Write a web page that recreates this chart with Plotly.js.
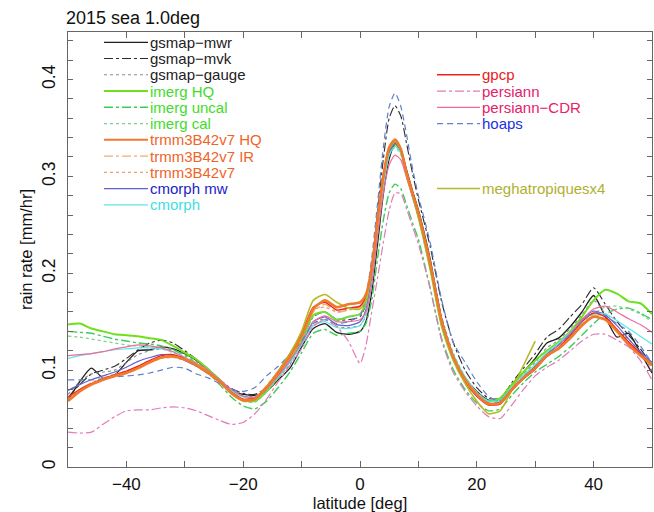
<!DOCTYPE html>
<html><head><meta charset="utf-8">
<script src="https://cdn.plot.ly/plotly-3.0.1.min.js"></script>
<style>html,body{margin:0;padding:0;background:#fff}#chart{width:654px;height:512px}</style>
</head><body><div id="chart"></div>
<script>
// latitude grid (deg)
const latitude = [-50,-48,-46,-44,-42,-40,-38,-36,-34,-32,-30,-28,-26,-24,-22,-20,-18,-16,-14,-12,-10,-8,-6,-4,-2,
  0,1,2,3,4,5,6,7,8,9,10,
  12,14,16,18,20,22,24,26,28,30,32,34,36,38,40,42,44,46,48,50];

// rain rate [mm/hr]
const gsmapMwr = [0.069,0.088,0.102,0.092,0.095,0.108,0.120,0.121,0.124,0.122,0.117,0.110,0.100,0.088,0.078,0.075,0.074,0.078,0.090,0.102,0.124,0.143,0.148,0.139,0.137,
  0.140,0.150,0.180,0.230,0.282,0.318,0.333,0.327,0.306,0.285,0.265,
  0.215,0.152,0.114,0.092,0.078,0.069,0.069,0.085,0.098,0.112,0.128,0.133,0.145,0.160,0.177,0.155,0.134,0.138,0.118,0.097];
const gsmapMvk = [0.072,0.085,0.096,0.100,0.104,0.112,0.121,0.128,0.131,0.128,0.120,0.111,0.101,0.090,0.081,0.076,0.075,0.082,0.095,0.110,0.130,0.155,0.160,0.152,0.152,
  0.155,0.168,0.205,0.262,0.318,0.360,0.373,0.362,0.333,0.303,0.276,
  0.228,0.170,0.128,0.100,0.082,0.071,0.071,0.087,0.102,0.117,0.134,0.142,0.155,0.168,0.185,0.168,0.150,0.136,0.122,0.105];
const gsmapGauge = [0.075,0.088,0.096,0.098,0.100,0.108,0.116,0.120,0.122,0.121,0.116,0.109,0.099,0.088,0.078,0.073,0.073,0.080,0.092,0.106,0.127,0.148,0.153,0.145,0.144,
  0.146,0.156,0.188,0.240,0.290,0.323,0.334,0.326,0.305,0.284,0.264,
  0.214,0.155,0.117,0.093,0.078,0.068,0.068,0.083,0.096,0.108,0.123,0.131,0.143,0.157,0.172,0.158,0.140,0.132,0.118,0.100];
const imergHQ = [0.147,0.148,0.143,0.140,0.137,0.136,0.135,0.133,0.131,0.125,0.118,0.111,0.101,0.090,0.078,0.069,0.068,0.078,0.093,0.110,0.130,0.157,0.160,0.152,0.155,
  0.158,0.170,0.200,0.250,0.296,0.326,0.334,0.325,0.301,0.280,0.258,
  0.205,0.145,0.110,0.088,0.074,0.068,0.071,0.085,0.098,0.110,0.120,0.129,0.140,0.155,0.172,0.183,0.179,0.171,0.169,0.158];
const imergUncal = [0.140,0.139,0.138,0.135,0.132,0.130,0.128,0.127,0.125,0.121,0.115,0.107,0.097,0.085,0.072,0.063,0.060,0.068,0.082,0.098,0.118,0.138,0.142,0.136,0.138,
  0.140,0.148,0.172,0.215,0.255,0.283,0.292,0.287,0.270,0.252,0.235,
  0.185,0.132,0.100,0.080,0.066,0.058,0.060,0.074,0.087,0.098,0.106,0.114,0.124,0.136,0.148,0.158,0.163,0.164,0.159,0.152];
const imergCal = [0.135,0.134,0.132,0.130,0.128,0.126,0.125,0.124,0.122,0.118,0.113,0.106,0.097,0.087,0.076,0.068,0.067,0.077,0.092,0.108,0.128,0.155,0.160,0.153,0.155,
  0.158,0.168,0.198,0.248,0.293,0.322,0.330,0.322,0.299,0.278,0.257,
  0.205,0.145,0.110,0.087,0.073,0.066,0.068,0.082,0.094,0.104,0.114,0.122,0.133,0.146,0.158,0.165,0.166,0.163,0.158,0.150];
const trmmHQ = [0.068,0.078,0.085,0.090,0.094,0.097,0.102,0.108,0.113,0.114,0.111,0.105,0.097,0.088,0.076,0.069,0.070,0.082,0.097,0.114,0.135,0.163,0.172,0.165,0.168,
  0.170,0.178,0.205,0.255,0.300,0.330,0.338,0.328,0.303,0.282,0.262,
  0.210,0.150,0.113,0.090,0.075,0.065,0.066,0.080,0.092,0.102,0.115,0.122,0.133,0.146,0.155,0.152,0.140,0.126,0.115,0.105];
const trmmIR = [0.072,0.080,0.087,0.092,0.096,0.099,0.104,0.109,0.113,0.114,0.110,0.104,0.096,0.087,0.077,0.070,0.072,0.084,0.099,0.116,0.136,0.160,0.168,0.160,0.162,
  0.165,0.175,0.203,0.252,0.297,0.327,0.335,0.326,0.302,0.281,0.261,
  0.212,0.152,0.115,0.091,0.076,0.066,0.067,0.081,0.093,0.104,0.117,0.125,0.136,0.148,0.157,0.153,0.142,0.128,0.117,0.107];
const trmm = [0.070,0.079,0.086,0.091,0.095,0.098,0.103,0.108,0.112,0.113,0.110,0.104,0.096,0.087,0.076,0.069,0.071,0.083,0.098,0.115,0.136,0.162,0.165,0.160,0.163,
  0.166,0.176,0.204,0.253,0.298,0.328,0.336,0.327,0.302,0.281,0.261,
  0.211,0.151,0.114,0.090,0.075,0.065,0.066,0.080,0.092,0.103,0.116,0.124,0.135,0.147,0.156,0.152,0.141,0.127,0.116,0.106];
const cmorphMw = [0.079,0.085,0.090,0.094,0.098,0.103,0.109,0.113,0.116,0.115,0.110,0.104,0.097,0.088,0.080,0.073,0.072,0.081,0.094,0.109,0.127,0.150,0.155,0.147,0.146,
  0.150,0.162,0.195,0.247,0.294,0.325,0.334,0.326,0.303,0.282,0.262,
  0.212,0.152,0.115,0.091,0.075,0.066,0.067,0.081,0.093,0.104,0.117,0.126,0.138,0.152,0.161,0.157,0.146,0.132,0.119,0.108];
const cmorph = [0.112,0.115,0.117,0.119,0.121,0.122,0.123,0.123,0.122,0.119,0.113,0.106,0.098,0.088,0.079,0.072,0.072,0.080,0.093,0.108,0.126,0.146,0.150,0.144,0.143,
  0.146,0.158,0.190,0.243,0.290,0.322,0.331,0.324,0.302,0.281,0.261,
  0.211,0.152,0.116,0.093,0.077,0.068,0.069,0.083,0.095,0.106,0.118,0.128,0.139,0.151,0.158,0.158,0.151,0.143,0.135,0.127];
const gpcp = [0.072,0.080,0.086,0.091,0.095,0.099,0.104,0.110,0.115,0.116,0.112,0.106,0.098,0.088,0.077,0.070,0.071,0.083,0.099,0.117,0.138,0.165,0.170,0.162,0.164,
  0.166,0.176,0.207,0.258,0.302,0.330,0.336,0.327,0.304,0.283,0.263,
  0.212,0.152,0.113,0.088,0.073,0.064,0.065,0.079,0.091,0.101,0.114,0.123,0.136,0.150,0.159,0.155,0.142,0.129,0.117,0.105];
const persiann = [0.036,0.035,0.036,0.044,0.052,0.058,0.059,0.059,0.061,0.062,0.061,0.058,0.053,0.048,0.044,0.046,0.055,0.070,0.088,0.105,0.122,0.145,0.152,0.145,0.130,
  0.107,0.125,0.160,0.195,0.232,0.265,0.283,0.282,0.266,0.248,0.230,
  0.185,0.130,0.097,0.078,0.063,0.052,0.050,0.064,0.080,0.094,0.103,0.110,0.120,0.130,0.137,0.137,0.131,0.124,0.110,0.090];
const persiannCDR = [0.115,0.116,0.117,0.119,0.122,0.124,0.126,0.125,0.123,0.119,0.113,0.107,0.100,0.090,0.080,0.073,0.072,0.080,0.094,0.110,0.128,0.150,0.156,0.150,0.150,
  0.152,0.160,0.188,0.238,0.283,0.312,0.322,0.317,0.298,0.279,0.259,
  0.208,0.148,0.112,0.089,0.074,0.065,0.066,0.080,0.092,0.103,0.116,0.126,0.138,0.152,0.163,0.166,0.160,0.153,0.147,0.139];
const hoaps = [0.090,0.090,0.090,0.091,0.093,0.094,0.095,0.097,0.100,0.103,0.102,0.096,0.092,0.086,0.080,0.078,0.082,0.094,0.104,0.116,0.130,0.148,0.152,0.148,0.150,
  0.156,0.175,0.215,0.272,0.330,0.372,0.386,0.372,0.342,0.308,0.280,
  0.232,0.172,0.128,0.108,0.088,0.073,0.068,0.080,0.092,0.104,0.116,0.126,0.137,0.150,0.160,0.156,0.148,0.140,0.125,0.107];
const meghatropiques = [null,null,null,null,null,null,null,null,null,null,0.112,0.106,0.098,0.088,0.076,0.068,0.069,0.083,0.099,0.117,0.140,0.172,0.178,0.170,0.164,
  0.163,0.172,0.202,0.252,0.298,0.328,0.336,0.327,0.301,0.280,0.259,
  0.207,0.146,0.110,0.086,0.068,0.055,0.058,0.080,0.105,0.130,null,null,null,null,null,null,null,null,null,null];

const seriesNames = ['gsmap\u2212mwr','gsmap\u2212mvk','gsmap\u2212gauge','imerg HQ','imerg uncal','imerg cal',
  'trmm3B42v7 HQ','trmm3B42v7 IR','trmm3B42v7','cmorph mw','cmorph','gpcp','persiann','persiann\u2212CDR','hoaps','meghatropiquesx4'];
const seriesValues = [gsmapMwr,gsmapMvk,gsmapGauge,imergHQ,imergUncal,imergCal,trmmHQ,trmmIR,trmm,cmorphMw,cmorph,gpcp,persiann,persiannCDR,hoaps,meghatropiques];

// styles: line colour, dash, width, legend text colour, legend column, legend row
const styles = [
  {c:'#1e1e1e', d:'solid',   w:1.3, t:'#222222', col:0, row:0},
  {c:'#2a2a2a', d:'dashdot', w:1.1, t:'#222222', col:0, row:1},
  {c:'#8a8a8a', d:'dot',     w:1.1, t:'#222222', col:0, row:2},
  {c:'#6ee01e', d:'solid',   w:2.0, t:'#3fdc2a', col:0, row:3},
  {c:'#3ccc5a', d:'dashdot', w:1.4, t:'#3fdc2a', col:0, row:4},
  {c:'#7ccf90', d:'dot',     w:1.2, t:'#3fdc2a', col:0, row:5},
  {c:'#f07a2c', d:'solid',   w:2.6, t:'#f0642a', col:0, row:6},
  {c:'#f2ac70', d:'dashdot', w:1.3, t:'#f0642a', col:0, row:7},
  {c:'#e8a070', d:'dot',     w:1.2, t:'#f0642a', col:0, row:8},
  {c:'#6262c8', d:'solid',   w:1.2, t:'#2222c8', col:0, row:9},
  {c:'#5ee6e6', d:'solid',   w:1.2, t:'#3ee0e0', col:0, row:10},
  {c:'#ee2222', d:'solid',   w:1.4, t:'#e82020', col:1, row:2},
  {c:'#e07cb8', d:'dashdot', w:1.2, t:'#e8206a', col:1, row:3},
  {c:'#f06aa0', d:'solid',   w:1.2, t:'#e8206a', col:1, row:4},
  {c:'#5f80cc', d:'6px,4px', w:1.2, t:'#2030e0', col:1, row:5},
  {c:'#b8b828', d:'solid',   w:1.6, t:'#b0b030', col:1, row:9}
];

const W = 654, H = 512, ML = 68, MR = 2, MT = 32, MB = 45;
const PW = W - ML - MR, PH = H - MT - MB;
const px2x = p => (p - ML) / PW;
const py2y = p => (H - MB - p) / PH;

const traces = seriesValues.map((v, i) => ({
  x: latitude, y: v, type: 'scatter', mode: 'lines', name: seriesNames[i],
  line: {color: styles[i].c, dash: styles[i].d, width: styles[i].w, shape: 'spline', smoothing: 0.6},
  connectgaps: false, showlegend: false, hoverinfo: 'skip'
}));
// trmm HQ drawn last so it sits on top
const order = [0,1,2,3,4,5,7,8,9,10,11,12,13,14,15,6];
const data = order.map(i => traces[i]);

const shapes = [], annotations = [];
const colLine = [[104,148],[437,480]];
const colText = [149, 481];
styles.forEach((s, i) => {
  const yy = py2y(42.3 + 16.25 * s.row);
  shapes.push({type:'line', xref:'paper', yref:'paper', x0:px2x(colLine[s.col][0]), x1:px2x(colLine[s.col][1]), y0:yy, y1:yy,
    line:{color:s.c, dash:s.d, width:Math.min(s.w,2)}});
  annotations.push({xref:'paper', yref:'paper', x:px2x(colText[s.col]), y:yy, xanchor:'left', yanchor:'middle',
    text:seriesNames[i], showarrow:false, borderpad:0,
    font:{family:'Liberation Sans, Arial, sans-serif', size:15, color:s.t}});
});

const layout = {
  width: W, height: H,
  margin: {l: ML, r: MR, t: MT, b: MB, pad: 0},
  paper_bgcolor: '#fff', plot_bgcolor: '#fff',
  font: {family: 'Liberation Sans, Arial, sans-serif', color: '#111'},
  title: {text: '2015 sea 1.0deg', x: 66 / W, xanchor: 'left', y: 1 - 18 / H, yanchor: 'middle',
    font: {size: 18, color: '#111'}},
  xaxis: {range: [-50, 50], tick0: 0, dtick: 20, ticks: 'inside', ticklen: 6, tickcolor: '#666',
    minor: {dtick: 10, ticks: 'inside', ticklen: 6, tickcolor: '#666'},
    showline: true, linecolor: '#666', linewidth: 1, mirror: 'ticks', showgrid: false, zeroline: false,
    tickfont: {size: 17, color: '#111'}, ticklabelstandoff: 2,
    title: {text: 'latitude [deg]', font: {size: 16.5, color: '#111'}, standoff: 1}},
  yaxis: {range: [0, 0.449], tick0: 0, dtick: 0.1, ticks: 'inside', ticklen: 5, tickcolor: '#666',
    minor: {dtick: 0.02, ticks: 'inside', ticklen: 5, tickcolor: '#666'},
    showline: true, linecolor: '#666', linewidth: 1, mirror: 'ticks', showgrid: false, zeroline: false,
    tickangle: -90, tickfont: {size: 17.5, color: '#111'}, ticklabelstandoff: 5,
    title: {text: 'rain rate [mm/hr]', font: {size: 16.5, color: '#111'}, standoff: 2}},
  shapes: shapes, annotations: annotations
};
Plotly.newPlot('chart', data, layout, {staticPlot: true, displayModeBar: false});
</script>
</body></html>
